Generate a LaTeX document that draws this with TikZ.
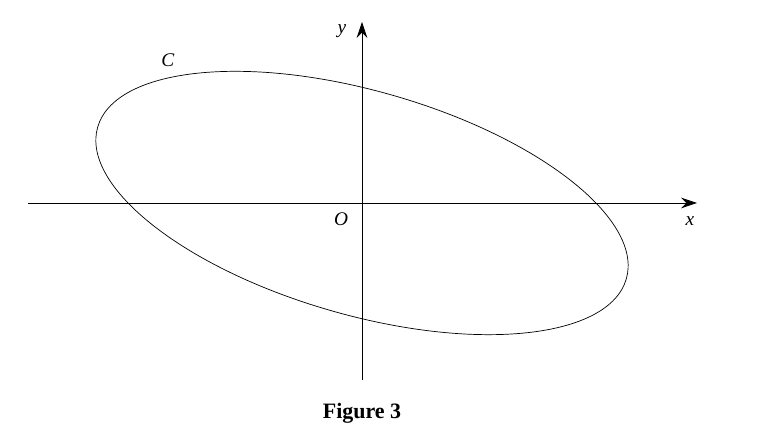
\documentclass[tikz,border=0pt]{standalone}
\usepackage{fontspec}
\setmainfont{Liberation Serif}
\usetikzlibrary{positioning,arrows.meta}

\begin{document}
\begin{tikzpicture}[x=0.02cm,y=-0.02cm,every node/.style={inner sep=1pt,font=\fontsize{11}{13}\selectfont},
  axis/.style={-{Stealth[length=9pt,width=6pt]},thin}]

\useasboundingbox (0,0) rectangle (762,448);

\coordinate (O) at (362,203);
\coordinate (xl) at (28,203);
\coordinate (xr) at (697,203);
\coordinate (yb) at (362,380);
\coordinate (yt) at (362,22);

\draw[axis] (xl) -- (xr);
\draw[axis] (yb) -- (yt);

\draw[thin] (O) ellipse[x radius=275,y radius=112,rotate=-16];

\node (lo) at (341,219) {\textit{O}};
\node (lx) at (690,221) {\textit{x}};
\node (ly) at (342,31) {\textit{y}};
\node (lc) at (168,60) {\textit{C}};
\node[font=\fontsize{12.5}{15}\selectfont] (cap) at (362,413) {\textbf{Figure 3}};

\end{tikzpicture}
\end{document}
